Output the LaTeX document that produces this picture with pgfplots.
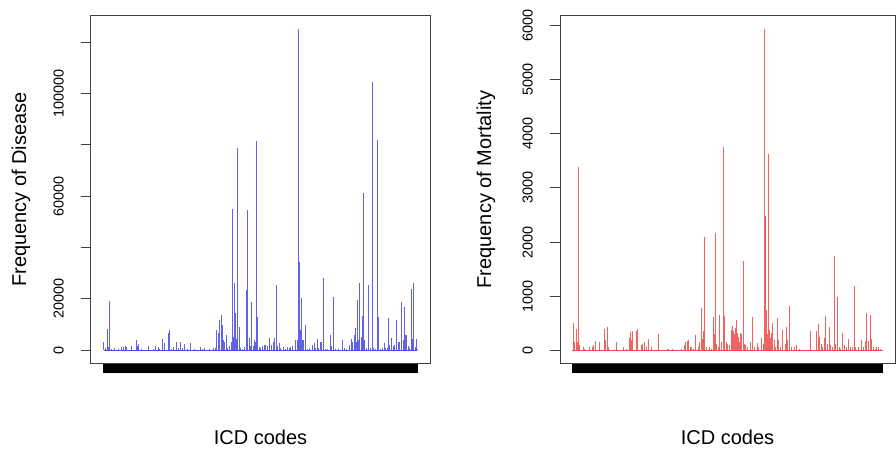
\documentclass[border=0pt]{standalone}
\usepackage{fontspec}
\setmainfont{Liberation Sans}
\usepackage{pgfplots}
\pgfplotsset{compat=1.18}
\pgfplotsset{
  icd/.style={
    scale only axis,
    width=254.25pt, height=260.25pt,
    xmin=-3, xmax=1021,
    axis line style={black!75, line width=0.75pt},
    xtick={35,37,...,983},
    xticklabels={},
    xtick pos=bottom,
    ytick pos=left,
    tick align=outside,
    major tick length=7.8pt,
    x tick style={black, line width=0.6pt},
    y tick style={black!75, line width=0.75pt},
    scaled y ticks=false,
    scaled x ticks=false,
    /pgf/number format/assume math mode=true,
    /pgf/number format/fixed,
    /pgf/number format/1000 sep={},
    yticklabel style={rotate=90, anchor=south, inner sep=0pt, font=\fontsize{10.8}{12}\selectfont},
    yticklabel shift=12.4pt,
    every axis x label/.style={at={(rel axis cs:0.5,0)}, anchor=center, yshift=-55.5pt, font=\fontsize{15}{18}\selectfont},
    clip=false,
  }
}
\definecolor{rblue}{RGB}{0,0,230}
\definecolor{rred}{RGB}{235,0,0}
\begin{document}
\begin{tikzpicture}[x=1pt,y=1pt]
\path[use as bounding box] (0,0) rectangle (672,337.5);
% ---------------- Left panel: disease ----------------
\begin{axis}[icd, at={(68.25pt,65.25pt)}, anchor=south west,
  ymin=-5010, ymax=130200,
  ytick={0,20000,40000,60000,80000,100000,120000},
  yticklabels={0,20000,,60000,,100000,},
  xlabel={ICD codes},
  ylabel={Frequency of Disease},
  every axis y label/.style={at={(rel axis cs:0,0.5)}, xshift=-52.5pt, rotate=90, anchor=center, font=\fontsize{15}{18}\selectfont},
]
\addplot[rblue, line width=0.6pt, opacity=0.7] coordinates {(35,0) (983,0)};
\addplot[ycomb, rblue, line width=0.75pt, opacity=0.62, mark=none] table {
x y
35 3250
40 800
46 8060
50 1200
54 19110
60 600
68 650
80 300
88 1300
95 1300
100 1500
105 1300
118 1560
133 3900
136 1500
140 2340
150 400
170 1560
185 300
192 1560
200 1300
205 600
212 4160
220 2600
230 6500
233 7800
240 500
245 1300
255 3250
262 800
268 3250
272 900
278 2340
290 400
299 2860
310 300
328 1300
333 600
340 650
355 300
368 650
372 1000
377 7800
381 6760
386 11700
390 13650
395 9750
398 4000
400 3250
405 5850
410 1000
415 1500
420 3000
424 54990
424 26000
427 5000
429 26000
429 14000
432 14300
435 4500
440 78650
440 9000
445 9100
450 800
455 400
460 1200
466 23400
471 54600
475 4550
479 1500
482 18850
487 1500
490 3900
494 3000
498 81510
498 13000
500 13000
505 1300
510 1000
515 1500
520 2000
525 1950
530 1500
537 4550
542 2000
548 3250
552 4550
557 25350
561 1500
565 2600
570 1000
578 1300
585 500
590 1300
596 800
600 1300
607 1500
614 3900
620 4000
623 125190
624 80860
625 80860
626 34450
627 34450
628 34450
630 8000
633 20150
636 4000
638 3900
644 9750
650 600
658 800
665 1950
672 2600
676 1000
680 4160
685 800
690 3250
694 3250
699 27950
705 500
712 600
720 5850
724 1500
728 20800
735 400
745 300
757 3900
762 800
770 500
778 2000
783 4160
788 3000
793 6000
795 8000
797 8450
800 3000
803 19500
806 4000
809 26260
813 5000
818 13260
820 61100
820 13000
823 4000
830 1000
835 25350
840 1000
846 104650
850 1000
855 600
862 81900
866 13000
872 500
878 800
883 2600
888 1000
892 1000
896 12610
900 2000
904 4550
910 1500
915 2000
920 11700
925 3000
930 3000
935 18850
940 4000
945 16640
946 6000
948 6000
950 5850
955 1500
960 1000
964 23790
968 4500
972 26260
972 5000
977 1200
981 4160
983 600
};
\end{axis}
% ---------------- Right panel: mortality ----------------
\begin{axis}[icd, at={(420pt,65.25pt)}, anchor=south west,
  width=251.25pt,
  ymin=-238, ymax=6182,
  ytick={0,1000,2000,3000,4000,5000,6000},
  xlabel={ICD codes},
  ylabel={Frequency of Mortality},
  every axis y label/.style={at={(rel axis cs:0,0.5)}, xshift=-55.5pt, rotate=90, anchor=center, font=\fontsize{15}{18}\selectfont},
]
\addplot[rred, line width=0.6pt, opacity=0.7] coordinates {(35,0) (983,0)};
\addplot[ycomb, rred, line width=0.75pt, opacity=0.62, mark=none] table {
x y
37 506
42 154
46 383
50 154
54 3394
54 154
58 100
68 60
72 30
88 60
95 60
100 90
107 173
118 142
133 383
136 180
141 420
141 150
146 60
170 154
190 50
200 30
208 228
212 340
215 180
220 358
230 358
233 389
245 90
250 120
255 154
262 60
268 197
278 60
299 290
325 30
330 30
340 30
368 30
377 90
381 154
386 170
390 185
395 60
400 60
405 30
411 278
420 60
424 154
429 771
432 200
435 352
440 2085
440 300
445 60
455 60
460 30
466 605
469 300
471 2160
475 120
480 60
485 648
490 154
498 3758
498 600
500 629
505 154
510 120
515 90
521 370
524 444
526 350
528 278
530 300
532 401
535 450
537 555
540 308
542 250
545 154
548 308
552 300
557 1654
560 120
565 90
570 60
578 154
585 617
590 60
600 136
605 60
614 216
620 120
623 5942
624 2480
625 2480
626 740
627 740
628 740
630 300
634 3628
637 370
640 216
644 308
648 506
652 180
656 60
662 586
666 180
672 60
678 370
685 120
689 420
693 180
699 814
705 60
713 60
720 93
730 30
762 352
782 352
786 481
790 250
796 120
800 60
806 216
810 629
815 120
820 432
825 90
830 60
836 1746
840 120
846 987
850 60
855 30
862 321
866 90
872 60
880 197
886 60
890 60
896 1185
900 60
910 60
920 185
925 60
930 173
935 679
940 173
945 648
948 200
955 60
960 30
965 60
972 60
978 30
};
\end{axis}
\end{tikzpicture}
\end{document}
